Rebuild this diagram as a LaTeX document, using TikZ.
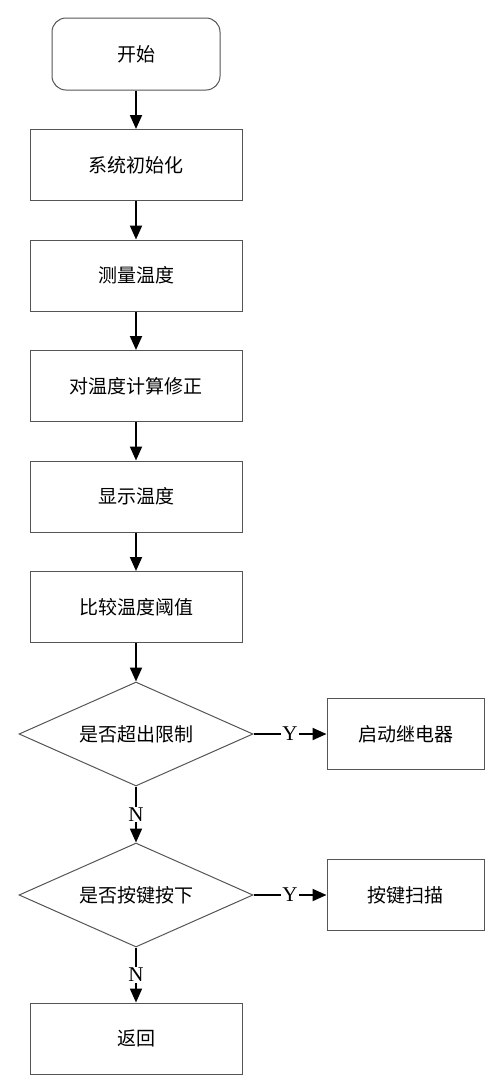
\documentclass[tikz,border=0pt]{standalone}
\usepackage{fontspec}
\setmainfont{Liberation Serif}
\newfontfamily\cjk{Noto Sans CJK SC}
\usepackage{tikz}
\usetikzlibrary{arrows.meta,positioning,shapes.geometric}
\definecolor{Edge}{HTML}{555555}
\tikzset{
 proc/.style={draw=Edge,line width=1pt,fill=white,align=center,
   font=\cjk\fontsize{19}{23}\selectfont,minimum width=212pt,minimum height=71pt,inner sep=2pt},
 startbox/.style={proc,rounded corners=14pt,minimum width=168pt,minimum height=72pt},
 side/.style={proc,minimum width=157pt},
 decide/.style={proc,diamond,aspect=2.25,minimum width=234pt,minimum height=104pt,inner sep=0pt},
 arr/.style={-{Triangle[length=14pt,width=12pt]},line width=2pt,draw=black},
 lab/.style={font=\fontsize{21}{24}\selectfont,fill=white,inner sep=1pt}
}
\begin{document}
\begin{tikzpicture}[x=1pt,y=-1pt,node distance=38.5pt]
\useasboundingbox (0,0) rectangle (500,1085);
\node[startbox] (s0) at (136,54) {开始};
\node[proc,below=of s0] (s1) {系统初始化};
\node[proc,below=of s1] (s2) {测量温度};
\node[proc,below=of s2] (s3) {对温度计算修正};
\node[proc,below=of s3] (s4) {显示温度};
\node[proc,below=of s4] (s5) {比较温度阈值};
\node[decide,below=of s5] (d1) {是否超出限制};
\node[side,right=73pt of d1] (r1) {启动继电器};
\node[decide,below=56pt of d1] (d2) {是否按键按下};
\node[side,right=73pt of d2] (r2) {按键扫描};
\node[proc,below=55pt of d2] (s6) {返回};
\foreach \a/\b in {s0/s1,s1/s2,s2/s3,s3/s4,s4/s5,s5/d1} \draw[arr] (\a)--(\b);
\draw[arr] (d1)--node[lab]{Y}(r1);
\draw[arr] (d2)--node[lab]{Y}(r2);
\draw[arr] (d1)--node[lab]{N}(d2);
\draw[arr] (d2)--node[lab]{N}(s6);
\end{tikzpicture}
\end{document}
